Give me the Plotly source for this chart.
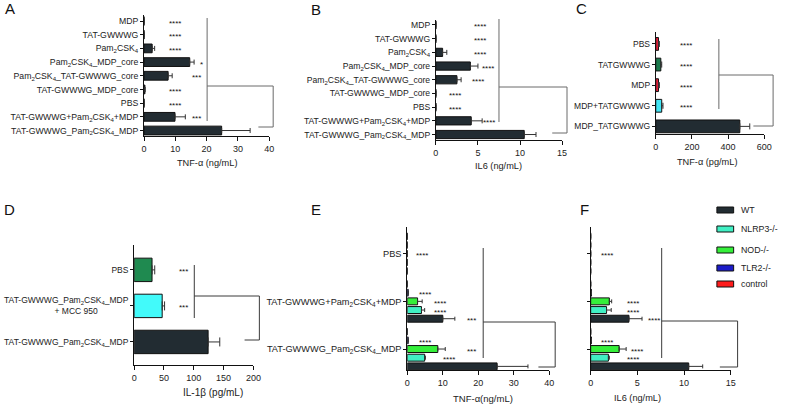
import plotly.graph_objects as go

FONT = "Liberation Sans, Arial, sans-serif"
P2 = "Pam<sub>2</sub>CSK<sub>4</sub>"

# ---------------- data ----------------
# Panel A  (TNF-alpha, ng/mL)
a_categories = ["MDP", "TAT-GWWWG", P2, P2 + "_MDP_core", P2 + "_TAT-GWWWG_core",
                "TAT-GWWWG_MDP_core", "PBS", "TAT-GWWWG+" + P2 + "+MDP",
                "TAT-GWWWG_" + P2 + "_MDP"]
a_values = [0, 0, 2.6, 14.6, 7.7, 0.3, 0, 9.9, 24.8]
a_err_top = [0, 0, 3.4, 16.0, 9.0, 0.3, 0, 13.2, 33.9]
a_stars = ["****", "****", "****", "*", "***", "****", "****", "***", ""]
a_star_x = [10, 10, 10, 18.3, 16.7, 10, 10, 16.7, 0]

# Panel B  (IL6, ng/mL)
b_categories = a_categories
b_values = [0, 0, 0.8, 4.1, 2.5, 0, 0, 4.2, 10.5]
b_err_top = [0, 0, 1.3, 5.0, 3.0, 0, 0, 5.5, 11.9]
b_stars = ["****", "****", "****", "****", "****", "****", "****", "****", ""]
b_star_x = [5.2, 5.2, 5.2, 6.2, 5.0, 2.3, 2.3, 6.3, 0]

# Panel C  (TNF-alpha, pg/mL)
c_categories = ["PBS", "TATGWWWG", "MDP", "MDP+TATGWWWG", "MDP_TATGWWWG"]
c_values = [15, 28, 15, 33, 465]
c_err_top = [20, 33, 20, 40, 520]
c_colors = ["#e8213b", "#1b7a4c", "#e8213b", "#42e6f5", "#222c32"]
c_stars = ["****", "****", "****", "****", ""]
c_star_x = [170, 170, 170, 170, 0]

# Panel D  (IL-1beta, pg/mL)
d_categories = ["PBS",
                "TAT-GWWWG_" + P2 + "_MDP<br>+ MCC 950" + "\u00a0" * 13,
                "TAT-GWWWG_" + P2 + "_MDP"]
d_values = [30, 47, 124]
d_err_top = [34.5, 51, 143.5]
d_colors = ["#1f8a50", "#42fafa", "#222c32"]
d_stars = ["***", "***", ""]
d_star_x = [83, 83, 0]

# Panels E / F  (knock-out mice)
ef_categories = ["PBS", "TAT-GWWWG+" + P2 + "+MDP", "TAT-GWWWG_" + P2 + "_MDP"]
series_names = ["WT", "NLRP3-/-", "NOD-/-", "TLR2-/-", "control"]
series_colors = ["#222c32", "#40f0c4", "#35ef3a", "#1c1cc8", "#ff1c1c"]

e_values = {
    "WT":       [0, 10.0, 25.3],
    "NLRP3-/-": [0, 4.0, 4.9],
    "NOD-/-":   [0, 2.9, 8.6],
    "TLR2-/-":  [0, 0.25, 0.25],
    "control":  [0, 0, 0],
}
e_err_top = {
    "WT":       [0, 13.4, 34.0],
    "NLRP3-/-": [0, 4.9, 5.1],
    "NOD-/-":   [0, 4.2, 10.7],
    "TLR2-/-":  [0, 0.25, 0.25],
    "control":  [0, 0, 0],
}
f_values = {
    "WT":       [0, 4.1, 10.5],
    "NLRP3-/-": [0, 1.7, 1.9],
    "NOD-/-":   [0, 2.0, 3.05],
    "TLR2-/-":  [0, 0.08, 0.08],
    "control":  [0, 0, 0],
}
f_err_top = {
    "WT":       [0, 5.5, 12.0],
    "NLRP3-/-": [0, 2.2, 2.0],
    "NOD-/-":   [0, 2.25, 3.8],
    "TLR2-/-":  [0, 0.08, 0.08],
    "control":  [0, 0, 0],
}
# stars: (category, series, text, x)
e_stars = [("PBS", "NOD-/-", "****", 4.2),
           (ef_categories[1], "TLR2-/-", "****", 5.0),
           (ef_categories[1], "NOD-/-", "****", 9.2),
           (ef_categories[1], "NLRP3-/-", "****", 9.2),
           (ef_categories[1], "WT", "***", 18.0),
           (ef_categories[2], "TLR2-/-", "****", 5.0),
           (ef_categories[2], "NOD-/-", "***", 18.0),
           (ef_categories[2], "NLRP3-/-", "****", 11.7)]
f_stars = [("PBS", "NOD-/-", "****", 1.8),
           (ef_categories[1], "NOD-/-", "****", 4.5),
           (ef_categories[1], "NLRP3-/-", "****", 4.5),
           (ef_categories[1], "WT", "****", 6.8),
           (ef_categories[2], "TLR2-/-", "****", 1.8),
           (ef_categories[2], "NOD-/-", "****", 5.0),
           (ef_categories[2], "NLRP3-/-", "****", 4.5)]

# ---------------- layout helpers ----------------
W, H = 788, 408


def xdom(x0, x1):
    return [x0 / W, x1 / W]


def ydom(top, bottom):
    return [1 - bottom / H, 1 - top / H]


def px(x):
    return x / W


def py(y):
    return 1 - y / H


fig = go.Figure()
DARK = "#222c32"


def err(values, tops, capw):
    return dict(type="data", symmetric=False,
                array=[t - v for t, v in zip(tops, values)],
                arrayminus=[0] * len(values),
                color="#333333", thickness=1, width=capw)


def single_panel(n, cats, vals, tops, colors, width, capw):
    order = list(reversed(cats))
    fig.add_trace(go.Bar(
        x=list(reversed(vals)), y=order, orientation="h",
        width=width,
        marker=dict(color=list(reversed(colors)) if isinstance(colors, list) else colors,
                    line=dict(color="#111111", width=1)),
        error_x=err(list(reversed(vals)), list(reversed(tops)), capw),
        xaxis="x" + ("" if n == 1 else str(n)),
        yaxis="y" + ("" if n == 1 else str(n)),
        showlegend=False, hoverinfo="skip"))


single_panel(1, a_categories, a_values, a_err_top, DARK, 0.64, 2.5)
single_panel(2, b_categories, b_values, b_err_top, DARK, 0.6, 2.5)
single_panel(3, c_categories, c_values, c_err_top, c_colors, 0.62, 3)
single_panel(4, d_categories, d_values, d_err_top, d_colors, 0.65, 4.5)

ef_order = list(reversed(ef_categories))
for panel, vals, tops in ((5, e_values, e_err_top), (6, f_values, f_err_top)):
    for name, col in zip(series_names, series_colors):
        v = list(reversed(vals[name]))
        t = list(reversed(tops[name]))
        fig.add_trace(go.Bar(
            x=v, y=ef_order, orientation="h", name=name,
            marker=dict(color=col, line=dict(color="#111111", width=1)),
            error_x=err(v, t, 2),
            xaxis="x" + str(panel), yaxis="y" + str(panel),
            showlegend=False, hoverinfo="skip"))

axis_common = dict(showline=True, linecolor="#111111", linewidth=1, ticks="outside",
                   ticklen=4, tickwidth=1, tickcolor="#111111", showgrid=False,
                   zeroline=False, fixedrange=True)


def xa(dom, rng, dtick, anchor, size=9):
    return dict(axis_common, domain=dom, range=rng, dtick=dtick, tick0=0, anchor=anchor,
                tickfont=dict(family=FONT, size=size, color="#222222"))


def ya(dom, rng, cats, anchor, size, labels=True):
    return dict(axis_common, domain=dom, range=rng, type="category",
                categoryorder="array", categoryarray=list(reversed(cats)), anchor=anchor,
                showticklabels=labels, ticklen=3,
                tickfont=dict(family=FONT, size=size, color="#222222"))


fig.update_layout(
    width=W, height=H, margin=dict(l=0, r=0, t=0, b=0),
    paper_bgcolor="white", plot_bgcolor="white",
    barmode="group", bargap=0.09, bargroupgap=0.2,
    font=dict(family=FONT, color="#222222"),
    xaxis=xa(xdom(143, 270), [0, 40], 10, "y"),
    yaxis=ya(ydom(15, 136), [-0.4, 8.44], a_categories, "x", 8.7),
    xaxis2=xa(xdom(439, 567), [0, 15], 5, "y2"),
    yaxis2=ya(ydom(19.5, 140), [-0.4, 8.4], b_categories, "x2", 8.6),
    xaxis3=xa(xdom(662, 772), [0, 600], 200, "y3"),
    yaxis3=ya(ydom(32, 134), [-0.37, 4.58], c_categories, "x3", 8.5),
    xaxis4=xa(xdom(133, 254), [0, 200], 50, "y4"),
    yaxis4=ya(ydom(245, 365), [-0.64, 2.69], d_categories, "x4", 8.5),
    xaxis5=xa(xdom(410, 554), [0, 40], 10, "y5"),
    yaxis5=ya(ydom(227, 370), [-0.44, 2.56], ef_categories, "x5", 9.2),
    xaxis6=xa(xdom(596, 738), [0, 15], 5, "y6"),
    yaxis6=ya(ydom(227, 370), [-0.44, 2.56], ef_categories, "x6", 9.2, labels=False),
)

annotations = []
shapes = []


def star_ann(n, x, yidx, text, yshift=-2):
    annotations.append(dict(x=x, y=yidx, xref="x" + ("" if n == 1 else str(n)),
                            yref="y" + ("" if n == 1 else str(n)), text=text,
                            showarrow=False, xanchor="center", yanchor="middle",
                            yshift=yshift,
                            font=dict(family=FONT, size=8, color="#111111")))


for n, cats, stars, sx in ((1, a_categories, a_stars, a_star_x),
                           (2, b_categories, b_stars, b_star_x),
                           (3, c_categories, c_stars, c_star_x),
                           (4, d_categories, d_stars, d_star_x)):
    k = len(cats)
    for i, (s, x) in enumerate(zip(stars, sx)):
        if s:
            star_ann(n, x, k - 1 - i, s)

slot = (1 - 0.09) / 5
slot_offset = {name: (i - 2) * slot for i, name in enumerate(series_names)}
for n, stars in ((5, e_stars), (6, f_stars)):
    for cat, ser, text, x in stars:
        idx = ef_order.index(cat)
        star_ann(n, x, idx + slot_offset[ser], text)

# panel letters
for letter, (lx, ly) in zip("ABCDEF", [(7, 8), (317, 9), (587, 8), (7, 210), (317, 210), (590, 210)]):
    annotations.append(dict(x=px(lx), y=py(ly), xref="paper", yref="paper", text=letter,
                            showarrow=False, xanchor="center", yanchor="middle",
                            font=dict(family=FONT, size=15, color="#111111")))

# axis titles
for text, (tx, ty), size in [("TNF-α (ng/mL)", (207, 163), 9.2),
                             ("IL6 (ng/mL)", (503, 166), 9.2),
                             ("TNF-α (pg/mL)", (714, 162), 9.2),
                             ("IL-1β (pg/mL)", (213, 392), 10),
                             ("TNF-α(ng/mL)", (487, 398), 9.5),
                             ("IL6 (ng/mL)", (643, 398), 9.2)]:
    annotations.append(dict(x=px(tx), y=py(ty), xref="paper", yref="paper", text=text,
                            showarrow=False, xanchor="center", yanchor="middle",
                            font=dict(family=FONT, size=size, color="#222222")))

# significance brackets (decorative, pixel coordinates)
brackets = [
    ("#6a6a6a", [(207, 18, 207, 121), (207, 86, 274, 86), (274, 86, 274, 127), (259, 127, 274, 127)]),
    ("#6a6a6a", [(503, 19, 503, 122), (503, 87, 572, 87), (572, 87, 572, 133), (557, 133, 572, 133)]),
    ("#6a6a6a", [(726, 39, 726, 109), (726, 75, 781, 75), (781, 75, 781, 126), (761, 126, 781, 126)]),
    ("#3a3a3a", [(194, 265, 194, 318), (194, 296, 260, 296), (260, 296, 260, 340), (245, 340, 260, 340)]),
    ("#3a3a3a", [(487, 248, 487, 358), (487, 322, 560, 322), (560, 322, 560, 367), (543, 367, 560, 367)]),
    ("#3a3a3a", [(668, 248, 668, 358), (668, 321, 745, 321), (745, 321, 745, 367), (727, 367, 745, 367)]),
]
for col, br in brackets:
    for x0, y0, x1, y1 in br:
        shapes.append(dict(type="line", xref="paper", yref="paper",
                           x0=px(x0), y0=py(y0), x1=px(x1), y1=py(y1),
                           line=dict(color=col, width=1)))

# manual legend for panels E/F
legend_y = [210, 229, 250, 268, 284]
for name, col, ly in zip(series_names, series_colors, legend_y):
    shapes.append(dict(type="rect", xref="paper", yref="paper",
                       x0=px(724), x1=px(741), y0=py(ly - 3), y1=py(ly + 3),
                       fillcolor=col, line=dict(color="#111111", width=1)))
    annotations.append(dict(x=px(746), y=py(ly), xref="paper", yref="paper", text=name,
                            showarrow=False, xanchor="left", yanchor="middle",
                            font=dict(family=FONT, size=8.8, color="#222222")))

fig.update_layout(annotations=annotations, shapes=shapes)
fig.write_html("out.html", config={"displayModeBar": False, "staticPlot": True},
               post_script="document.body.style.margin='0';document.body.style.padding='0';"
                           "document.body.style.overflow='hidden';")
